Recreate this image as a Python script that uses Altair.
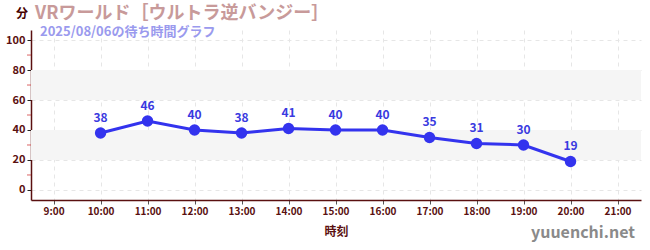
import altair as alt
import pandas as pd

hours = [10, 11, 12, 13, 14, 15, 16, 17, 18, 19, 20]
waits = [38, 46, 40, 38, 41, 40, 40, 35, 31, 30, 19]
tick_hours = [9, 10, 11, 12, 13, 14, 15, 16, 17, 18, 19, 20, 21]
y_ticks = [0, 20, 40, 60, 80, 100]
minor_ticks = [10, 30, 50, 70, 90]
band_lo = [20, 60]
band_hi = [40, 80]

df = pd.DataFrame({"hour": hours, "wait": waits})
bands = pd.DataFrame({"lo": band_lo, "hi": band_hi})

FONT = "Noto Sans CJK JP"
AX = "#5a1010"
LINE = "#3333ee"

xs = alt.Scale(domain=[8.52, 21.5], nice=False, zero=False)
ys = alt.Scale(domain=[-6.7, 106.7], nice=False, zero=False)

x_axis = alt.Axis(values=tick_hours, labelExpr="datum.value + ':00'", title="時刻",
                  grid=True, gridDash=[4, 4], gridColor="#e6e6e6",
                  domainColor=AX, domainWidth=1.5, tickColor="#555", labelColor=AX,
                  labelFont=FONT, labelFontSize=10, labelFontWeight="bold",
                  labelOverlap=False,
                  titleFont=FONT, titleFontSize=12, titleColor=AX, titlePadding=10,
                  tickSize=4)
y_axis = alt.Axis(values=y_ticks, title=None, grid=True, gridDash=[4, 4], gridColor="#e6e6e6",
                  domainColor=AX, domainWidth=1.5, tickColor="#222", labelColor=AX,
                  labelFont=FONT, labelFontSize=11, labelFontWeight="bold", tickSize=4,
                  labelOverlap=False, labelPadding=2)

band = alt.Chart(bands).mark_rect(color="#f5f5f5").encode(
    y=alt.Y("lo:Q", scale=ys, axis=y_axis),
    y2="hi:Q",
    x=alt.value(0), x2=alt.value(610),
)

minor = alt.Chart(pd.DataFrame({"m": minor_ticks})).mark_tick(
    color="#cc2222", orient="horizontal", size=4, thickness=1, xOffset=-2
).encode(y=alt.Y("m:Q", scale=ys, axis=y_axis), x=alt.value(0))

line = alt.Chart(df).mark_line(color=LINE, strokeWidth=3).encode(
    x=alt.X("hour:Q", scale=xs, axis=x_axis),
    y=alt.Y("wait:Q", scale=ys, axis=y_axis),
)
pts = alt.Chart(df).mark_circle(color=LINE, size=130, opacity=1).encode(
    x=alt.X("hour:Q", scale=xs, axis=x_axis), y=alt.Y("wait:Q", scale=ys, axis=y_axis))
labels = alt.Chart(df).mark_text(color="#3a3ae0", font=FONT, fontSize=12, fontWeight="bold",
                                 dy=-15, baseline="middle").encode(
    x=alt.X("hour:Q", scale=xs, axis=x_axis), y=alt.Y("wait:Q", scale=ys, axis=y_axis),
    text="wait:Q")

def txt(t, x, y, size, color, weight="bold", align="left"):
    return alt.Chart(pd.DataFrame({"t": [t]})).mark_text(
        font=FONT, fontSize=size, color=color, fontWeight=weight, align=align, baseline="middle"
    ).encode(text="t:N", x=alt.value(x), y=alt.value(y))

title = txt("VRワールド［ウルトラ逆バンジー］", 4, -16, 18, "#c89a9a")
sub = txt("2025/08/06の待ち時間グラフ", 9, 2, 13, "#9a9aee")
unit = txt("分", -15, -16, 12, "#440000")
wm = txt("yuuenchi.net", 604, 203, 16, "#8a8a8a", weight="bold", align="right")

chart = alt.layer(band, minor, line, pts, labels, title, sub, unit, wm).properties(
    width=610, height=170,
    autosize=alt.AutoSizeParams(type="none"),
    padding={"left": 31, "top": 30, "right": 9, "bottom": 50},
    background="white",
).configure_view(stroke=None).configure_axis(labelOverlap=False)

chart.save("out.html", embed_options={"renderer": "svg", "actions": False})
